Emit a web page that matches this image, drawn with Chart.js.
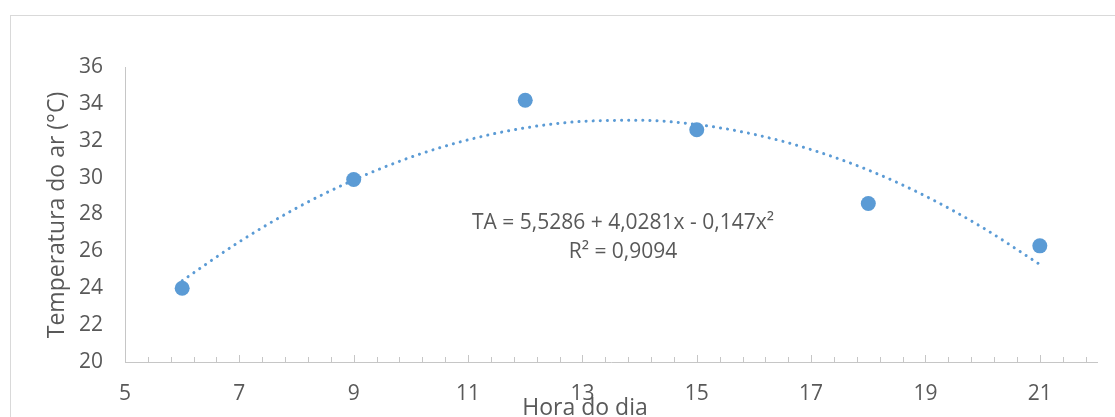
<!DOCTYPE html>
<html>
<head>
<meta charset="utf-8">
<script src="https://cdn.jsdelivr.net/npm/chart.js@4/dist/chart.umd.min.js"></script>
<style>
  html, body { margin: 0; padding: 0; background: #ffffff; }
  #wrap { position: relative; width: 1115px; height: 417px; overflow: hidden; background: #fff; }
  #frame { position: absolute; left: 10px; top: 15px; width: 1200px; height: 600px; border: 1px solid #d9d9d9; box-sizing: border-box; }
  canvas { position: absolute; left: 0; top: 0; }
</style>
</head>
<body>
<div id="wrap">
  <div id="frame"></div>
  <canvas id="c" width="1115" height="417"></canvas>
</div>
<script>
// Observed data (hour of day vs air temperature)
const hours = [6, 9, 12, 15, 18, 21];
const temps = [24.0, 29.9, 34.2, 32.6, 28.6, 26.3];

// Trend line values
const trendHours = [6, 7, 8, 9, 10, 11, 12, 13, 14, 15, 16, 17, 18, 19, 20, 21];
const trendTemps = [24.41, 26.52, 28.35, 29.87, 31.11, 32.05, 32.70, 33.05, 33.11, 32.88, 32.35, 31.52, 30.41, 29.00, 27.29, 25.29];

// Axis ticks
const xTickLabels = [5, 7, 9, 11, 13, 15, 17, 19, 21];
const yTickLabels = [20, 22, 24, 26, 28, 30, 32, 34, 36];

// Texts
const xTitle = 'Hora do dia';
const yTitle = 'Temperatura do ar (°C)';
const eqLine1 = 'TA = 5,5286 + 4,0281x - 0,147x²';
const eqLine2 = 'R² = 0,9094';

const BLUE = '#5b9bd5';
const TXT = '#595959';
const AXIS = '#c6c6c6';
const FONT = '"Open Sans", "Liberation Sans", sans-serif';

const extras = {
  id: 'extras',
  afterDraw(chart) {
    const ctx = chart.ctx;
    const xs = chart.scales.x;
    const ys = chart.scales.y;
    const base = ys.getPixelForValue(20);
    ctx.save();
    // minor / major tick marks on x axis (drawn upward)
    ctx.strokeStyle = AXIS;
    ctx.lineWidth = 1;
    for (let i = 0; i <= 42; i++) {
      const v = 5 + i * 0.4;
      const px = Math.round(xs.getPixelForValue(v)) + 0.5;
      const len = (i % 5 === 0) ? 7 : 5;
      ctx.beginPath();
      ctx.moveTo(px, base);
      ctx.lineTo(px, base - len);
      ctx.stroke();
    }
    // axis titles
    ctx.fillStyle = TXT;
    ctx.font = '23px ' + FONT;
    ctx.textAlign = 'center';
    ctx.textBaseline = 'middle';
    ctx.fillText(xTitle, 585, 408);
    ctx.save();
    ctx.translate(57, 215);
    ctx.rotate(-Math.PI / 2);
    ctx.fillText(yTitle, 0, 0);
    ctx.restore();
    // equation
    ctx.font = '21px ' + FONT;
    ctx.fillText(eqLine1, 623, 223);
    ctx.fillText(eqLine2, 623, 252);
    ctx.restore();
  }
};

new Chart(document.getElementById('c'), {
  type: 'scatter',
  data: {
    datasets: [
      {
        label: 'Tendência',
        data: trendHours.map((h, i) => ({ x: h, y: trendTemps[i] })),
        showLine: true,
        borderColor: BLUE,
        borderWidth: 3,
        borderDash: [0.1, 7],
        borderCapStyle: 'round',
        pointRadius: 0,
        cubicInterpolationMode: 'monotone',
        fill: false,
        order: 2
      },
      {
        label: 'TA',
        data: hours.map((h, i) => ({ x: h, y: temps[i] })),
        backgroundColor: BLUE,
        borderColor: BLUE,
        borderWidth: 0,
        pointRadius: 7.5,
        order: 1
      }
    ]
  },
  options: {
    responsive: false,
    animation: false,
    layout: { padding: { top: 67, right: 18, left: 0, bottom: 0 } },
    plugins: { legend: { display: false }, tooltip: { enabled: false } },
    scales: {
      x: {
        type: 'linear',
        min: 5, max: 22,
        afterFit(s) { s.height = 55; },
        afterBuildTicks(s) { s.ticks = xTickLabels.map(v => ({ value: v })); },
        grid: { display: false, drawTicks: false },
        border: { display: true, color: AXIS, width: 1 },
        ticks: { color: TXT, font: { family: FONT, size: 21 }, padding: 19, maxRotation: 0, autoSkip: false }
      },
      y: {
        type: 'linear',
        min: 20, max: 36,
        afterFit(s) { s.width = 125; },
        afterBuildTicks(s) { s.ticks = yTickLabels.map(v => ({ value: v })); },
        grid: { display: false, drawTicks: false },
        border: { display: true, color: AXIS, width: 1 },
        ticks: { color: TXT, font: { family: FONT, size: 21 }, padding: 22, autoSkip: false }
      }
    }
  },
  plugins: [extras]
});
</script>
</body>
</html>
